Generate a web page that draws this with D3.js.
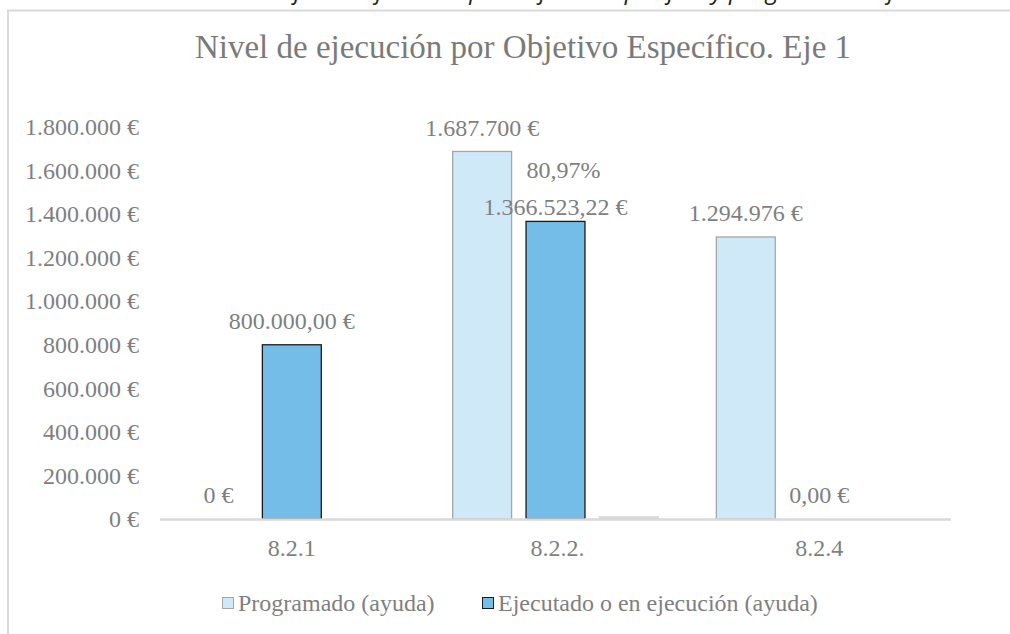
<!DOCTYPE html>
<html>
<head>
<meta charset="utf-8">
<script src="https://cdn.jsdelivr.net/npm/d3@7"></script>
<style>
  body { margin: 0; background: #fff; }
  text { font-family: "Liberation Serif", serif; }
</style>
</head>
<body>
<svg width="1010" height="634"></svg>
<script>
const categories = ['8.2.1', '8.2.2.', '8.2.4'];
const programado = [0, 1687700, 1294976];
const ejecutado = [800000, 1366523.22, 0];
const otros = [0, 10000, 0];
const yTicks = [0, 200000, 400000, 600000, 800000, 1000000, 1200000, 1400000, 1600000, 1800000];
const seriesNames = ['Programado (ayuda)', 'Ejecutado o en ejecución (ayuda)'];

const W = 1010, H = 634;
const plotLeft = 160, plotRight = 951, plotTop = 127, plotBottom = 519;
const labelCol = '#7f7f7f';

const es = d3.formatLocale({decimal: ',', thousands: '.', grouping: [3], currency: ['', ' €']});
const fmt0 = v => es.format(',.0f')(v) + ' €';
const fmt2 = v => es.format(',.2f')(v) + ' €';
const fmtPct = v => es.format('.2f')(v * 100) + '%';

const svg = d3.select('svg');

// caption of the page, cut off above the picture (only descenders show)
svg.append('text')
    .attr('x', 590).attr('y', -1)
    .attr('text-anchor', 'middle')
    .style('font-family', '"Open Sans", sans-serif')
    .style('font-style', 'italic')
    .style('font-size', '24px')
    .style('fill', '#222')
    .text('Gráfico 5. Ejecución por objetivo específico y programado. Eje 1');

// chart frame
svg.append('path')
    .attr('d', `M8,${H + 5} V10.5 H${W + 5}`)
    .attr('fill', 'none')
    .attr('stroke', '#d9d9d9')
    .attr('stroke-width', 2);

svg.append('text')
    .attr('x', 523).attr('y', 58)
    .attr('text-anchor', 'middle')
    .style('font-size', '33px')
    .style('fill', '#7a7a7a')
    .text('Nivel de ejecución por Objetivo Específico. Eje 1');

const x0 = d3.scaleBand().domain(categories).range([plotLeft, plotRight]);
const x1 = d3.scaleBand().domain([0, 1, 2])
    .range([29, x0.bandwidth() - 29]).paddingInner(0.197);
const y = d3.scaleLinear().domain([0, 1800000]).range([plotBottom, plotTop]);

// y axis labels
const yAxis = svg.append('g')
    .attr('transform', `translate(${plotLeft},0)`)
    .call(d3.axisLeft(y).tickValues(yTicks).tickFormat(fmt0).tickSize(0).tickPadding(21));
yAxis.select('.domain').remove();
yAxis.selectAll('text')
    .style('font-family', '"Liberation Serif", serif')
    .style('font-size', '24px')
    .style('fill', labelCol);

// bars
const groups = categories.map((c, i) => ({cat: c, vals: [programado[i], ejecutado[i], otros[i]]}));
const styles = [
    {fill: '#d0e9f8', stroke: '#a6a6a6'},
    {fill: '#74bde8', stroke: '#1a1a1a'},
    {fill: '#d9d9d9', stroke: '#d9d9d9'}
];

const g = svg.selectAll('g.cat')
    .data(groups)
    .enter().append('g')
    .attr('class', 'cat')
    .attr('transform', d => `translate(${x0(d.cat)},0)`);

g.selectAll('rect')
    .data(d => d.vals.map((v, k) => ({v, k})))
    .enter().append('rect')
    .filter(d => d.v > 0)
    .attr('x', d => x1(d.k))
    .attr('y', d => y(d.v))
    .attr('width', x1.bandwidth())
    .attr('height', d => y(0) - y(d.v))
    .attr('fill', d => styles[d.k].fill)
    .attr('stroke', d => styles[d.k].stroke)
    .attr('stroke-width', 1.3);

// baseline
svg.append('line')
    .attr('x1', plotLeft).attr('x2', plotRight)
    .attr('y1', y(0) + 0.5).attr('y2', y(0) + 0.5)
    .attr('stroke', '#d9d9d9')
    .attr('stroke-width', 2.5);

// value labels
categories.forEach((c, i) => {
    let cx = x0(c);
    svg.append('text')
        .attr('x', cx + x1(0) + x1.bandwidth() / 2)
        .attr('y', y(programado[i]) - 24)
        .attr('dy', '0.35em')
        .attr('text-anchor', 'middle')
        .style('font-size', '24px')
        .style('fill', labelCol)
        .text(fmt0(programado[i]));
    let shift = (ejecutado[i] > 0 && programado[i] > ejecutado[i]) ? 15 : 24;
    svg.append('text')
        .attr('x', cx + x1(1) + x1.bandwidth() / 2)
        .attr('y', y(ejecutado[i]) - shift)
        .attr('dy', '0.35em')
        .attr('text-anchor', 'middle')
        .style('font-size', '24px')
        .style('fill', labelCol)
        .text(fmt2(ejecutado[i]));
    if (ejecutado[i] > 0 && programado[i] > 0) {
        svg.append('text')
            .attr('x', cx + x1(1) + x1.bandwidth() / 2 + 8)
            .attr('y', y(ejecutado[i]) - 52)
            .attr('dy', '0.35em')
            .attr('text-anchor', 'middle')
            .style('font-size', '24px')
            .style('fill', labelCol)
            .text(fmtPct(ejecutado[i] / programado[i]));
    }
});

// x axis labels
categories.forEach(c => {
    svg.append('text')
        .attr('x', x0(c) + x0.bandwidth() / 2 + (c.endsWith('.') ? 2 : 0))
        .attr('y', 548)
        .attr('dy', '0.35em')
        .attr('text-anchor', 'middle')
        .style('font-size', '24px')
        .style('fill', labelCol)
        .text(c);
});

// legend
const legX = [222, 482];
seriesNames.forEach((s, k) => {
    svg.append('rect')
        .attr('x', legX[k] + 0.5).attr('y', 597.5)
        .attr('width', 11).attr('height', 11)
        .attr('fill', styles[k].fill)
        .attr('stroke', styles[k].stroke)
        .attr('stroke-width', 1);
    svg.append('text')
        .attr('x', legX[k] + 16).attr('y', 603)
        .attr('dy', '0.35em')
        .style('font-size', '24px')
        .style('fill', labelCol)
        .text(s);
});
</script>
</body>
</html>
